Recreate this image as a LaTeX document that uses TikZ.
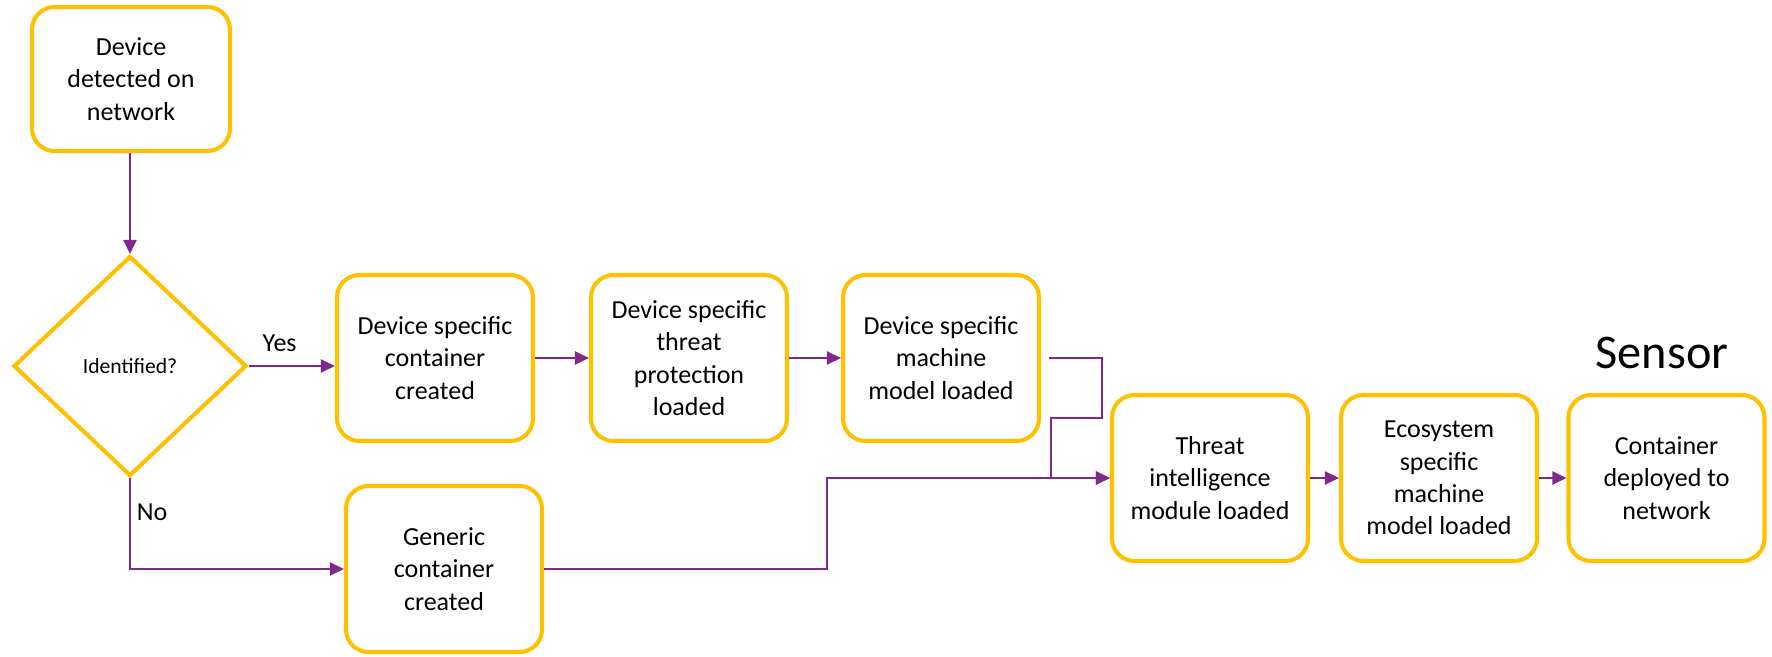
\documentclass[tikz,border=0pt]{standalone}
\usepackage{fontspec}
\setmainfont{Carlito}
\usetikzlibrary{shapes.geometric,arrows.meta}
\definecolor{boxyellow}{RGB}{255,192,0}
\definecolor{flowpurple}{RGB}{128,40,140}

\begin{document}
\begin{tikzpicture}[auto,
    >={Triangle[length=2.8mm,width=2.6mm]},
    box/.style={rectangle,rounded corners=0.45cm,draw=boxyellow,line width=2.3pt,fill=white,
        minimum width=3.92cm,minimum height=3.32cm,align=center,font=\fontsize{14.8}{18.4}\selectfont},
    decision/.style={diamond,draw=boxyellow,line width=2.3pt,minimum width=4.66cm,
        minimum height=4.40cm,inner sep=0pt,font=\fontsize{12.3}{15}\selectfont},
    flow/.style={draw=flowpurple,line width=1.1pt},
    lbl/.style={font=\fontsize{14.8}{18.4}\selectfont}]
    \useasboundingbox (0,0) rectangle (35.44,-13.14);
    % left column
    \node[box,minimum width=3.96cm,minimum height=2.88cm] (detect) at (2.62,-1.58) {Device\\detected on\\network};
    \node[decision] (ident) at (2.6,-7.32) {Identified?};
    % device specific row
    \node[box] (devcont) at (8.70,-7.16) {Device specific\\container\\created};
    \node[box] (devthreat) at (13.78,-7.16) {Device specific\\threat\\protection\\loaded};
    \node[box] (devmodel) at (18.82,-7.16) {Device specific\\machine\\model loaded};
    \node[box] (generic) at (8.88,-11.38) {Generic\\container\\created};
    % sensor row
    \node[box] (threat) at (24.20,-9.56) {Threat\\intelligence\\module loaded};
    \node[box] (eco) at (28.78,-9.56) {Ecosystem\\specific\\machine\\model loaded};
    \node[box] (deploy) at (33.33,-9.56) {Container\\deployed to\\network};
    \node[font=\fontsize{27.5}{32}\selectfont] (sensor) at (33.24,-7.06) {Sensor};

    \draw[flow,->] (detect.south -| ident.north) -- (ident.north);
    \draw[flow,->] (ident.east) -- node[lbl,pos=0.36,above=1.5mm]{Yes} (ident.east -| devcont.west);
    \draw[flow,->] (ident.south) |- node[lbl,pos=0.19,right]{No} (generic.west);
    \draw[flow,->] (devcont) -- (devthreat);
    \draw[flow,->] (devthreat) -- (devmodel);
    \draw[flow,->] ([xshift=1.6mm]devmodel.east) -| (22.04,-8.36) -| (21.02,-9.56) -- (threat.west);
    \draw[flow,->] (generic.east) -- (16.54,-11.38) |- (threat.west);
    \draw[flow,->] (threat) -- (eco);
    \draw[flow,->] (eco) -- (deploy);
\end{tikzpicture}
\end{document}
